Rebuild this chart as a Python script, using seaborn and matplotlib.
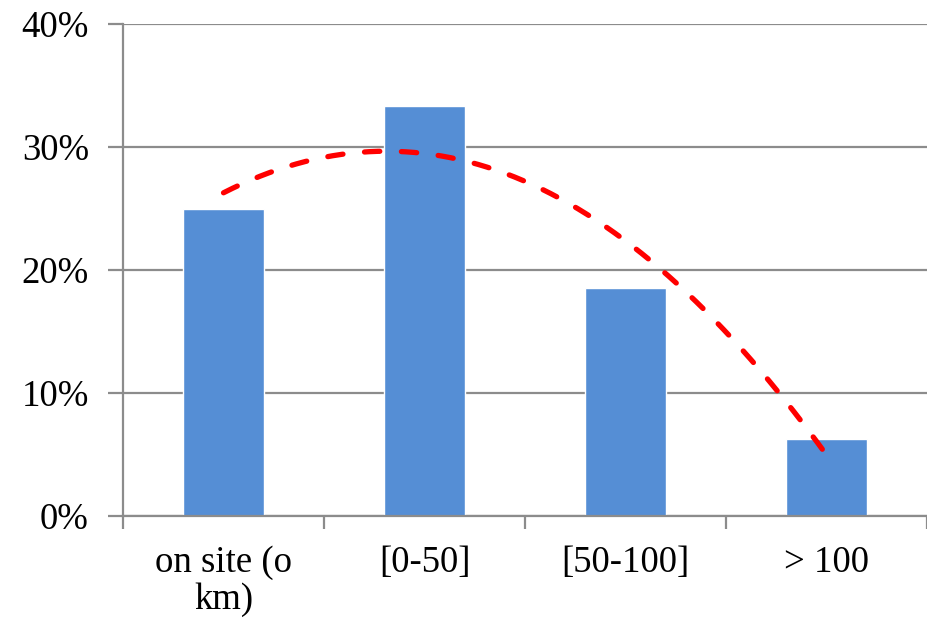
import numpy as np
import pandas as pd
import matplotlib
matplotlib.use("Agg")
import matplotlib.pyplot as plt
import seaborn as sns
from matplotlib.ticker import FixedLocator, FuncFormatter

categories = ["on site (o\nkm)", "[0-50]", "[50-100]", "> 100"]
shares = [25.0, 33.33, 18.52, 6.25]
y_ticks = [0, 10, 20, 30, 40]

df = pd.DataFrame({"category": categories, "share": shares})

sns.set_theme(style="white")
plt.rcParams["font.family"] = ["Liberation Serif", "DejaVu Serif"]

fig = plt.figure(figsize=(9.27, 6.18), dpi=100)
ax = fig.add_axes([0.1327, 0.165, 0.8673, 0.796])

sns.barplot(data=df, x="category", y="share", color="#558ED5",
            width=0.4, saturation=1, ax=ax, zorder=3)

# second-order polynomial trendline over the bar values
xpos = np.arange(len(shares))
coef = np.polyfit(xpos, shares, 2)
xs = np.linspace(xpos[0], xpos[-1], 200)
ax.plot(xs, np.polyval(coef, xs), color="#FF0000", lw=3.8,
        dashes=(2.9, 4.1), solid_capstyle="round", dash_capstyle="round",
        zorder=4)

ax.set_ylim(0, 40)
ax.set_xlim(-0.5, len(categories) - 0.5)
ax.set_yticks(y_ticks)
ax.yaxis.set_major_formatter(FuncFormatter(lambda v, p: f"{v:.0f}%"))
ax.yaxis.grid(True, color="#8C8C8C", lw=1.6, zorder=0)
ax.set_axisbelow(True)

ax.xaxis.set_minor_locator(FixedLocator(np.arange(-0.5, len(categories), 1.0)))
ax.tick_params(axis="x", which="major", length=0, pad=21, labelsize=26.5,
               labelcolor="black")
ax.tick_params(axis="x", which="minor", length=9, width=1.6, color="#8C8C8C",
               direction="out", bottom=True)
ax.tick_params(axis="y", which="major", length=11, width=1.6, color="#8C8C8C",
               direction="out", left=True, labelsize=26.5, pad=13.5,
               labelcolor="black")
for lbl in ax.get_xticklabels():
    lbl.set_linespacing(1.1)

for side in ["top", "right"]:
    ax.spines[side].set_visible(False)
for side in ["left", "bottom"]:
    ax.spines[side].set_color("#8C8C8C")
    ax.spines[side].set_linewidth(1.6)
ax.spines["bottom"].set_zorder(5)

ax.set_xlabel("")
ax.set_ylabel("")

fig.savefig("out.png", dpi=100)
